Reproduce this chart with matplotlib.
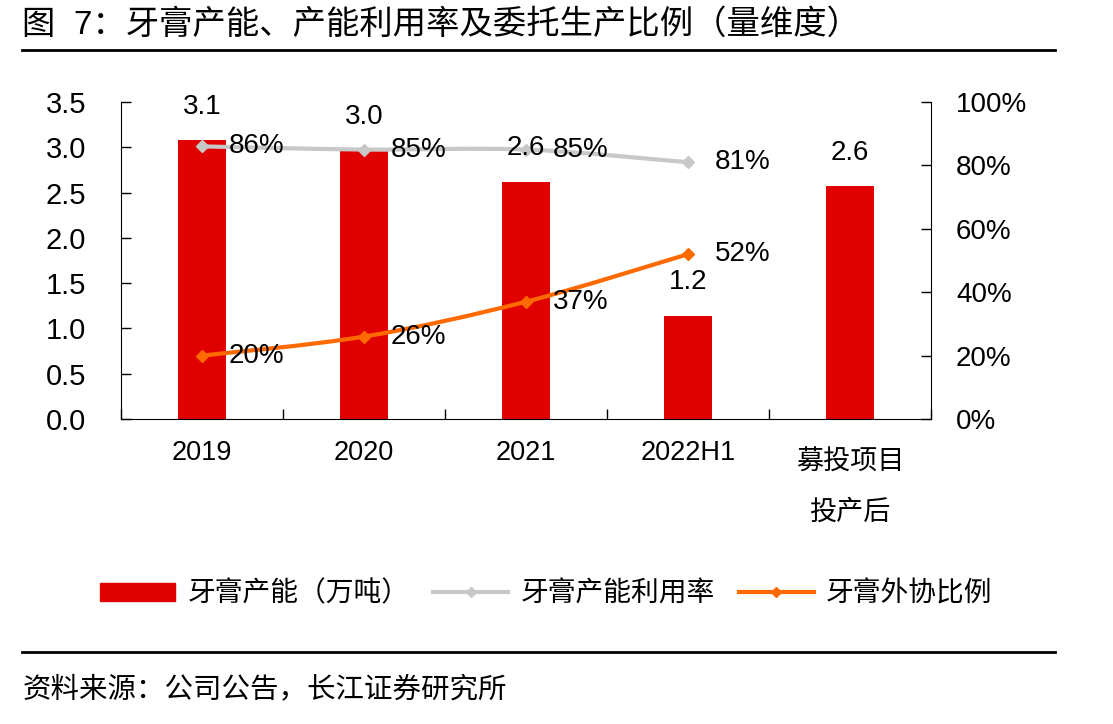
import matplotlib
matplotlib.use("Agg")
import matplotlib.pyplot as plt
import matplotlib.transforms as mtransforms
import numpy as np
from matplotlib.lines import Line2D
from matplotlib.patches import Patch, PathPatch
from matplotlib.path import Path

plt.rcParams["font.family"] = ["Liberation Sans", "Noto Sans CJK SC"]

categories = ["2019", "2020", "2021", "2022H1", "募投项目\n投产后"]
capacity = [3.08, 2.97, 2.62, 1.14, 2.57]
capacity_labels = ["3.1", "3.0", "2.6", "1.2", "2.6"]
utilization = [0.86, 0.85, 0.85, 0.81]
outsourcing = [0.20, 0.26, 0.37, 0.52]

RED = "#E00000"
GRAY = "#C8C8C8"
ORANGE = "#FF6A00"


def smooth_path(xs, ys):
    """Bezier path through the points (Excel-style smoothed line)."""
    xs = np.asarray(xs, float)
    ys = np.asarray(ys, float)
    n = len(xs)
    verts = [(xs[0], ys[0])]
    codes = [Path.MOVETO]
    for i in range(n - 1):
        p0 = i - 1 if i > 0 else i
        p3 = i + 2 if i + 2 < n else i + 1
        c1 = (xs[i] + (xs[i + 1] - xs[p0]) / 6, ys[i] + (ys[i + 1] - ys[p0]) / 6)
        c2 = (xs[i + 1] - (xs[p3] - xs[i]) / 6, ys[i + 1] - (ys[p3] - ys[i]) / 6)
        verts += [c1, c2, (xs[i + 1], ys[i + 1])]
        codes += [Path.CURVE4] * 3
    return Path(verts, codes)


fig = plt.figure(figsize=(11.13, 7.24), dpi=100)
ax = fig.add_axes([0.1087, 0.4213, 0.7278, 0.4378])
x = np.arange(len(categories))

ax.bar(x, capacity, width=0.3, color=RED, zorder=2)
ax.set_xlim(-0.5, len(categories) - 0.5)
ax.set_ylim(0, 3.5)
ax.set_yticks(np.arange(0, 3.51, 0.5))
ax.set_yticklabels([f"{v:.1f}" for v in np.arange(0, 3.51, 0.5)])
ax.set_xticks(x)
ax.set_xticklabels(categories)
ax.set_xticks(np.arange(-0.5, len(categories) - 0.4, 1), minor=True)
ax.tick_params(axis="x", which="major", length=0, labelsize=19.5, pad=15)
ax.tick_params(axis="x", which="minor", direction="in", length=7, width=1)
ax.tick_params(axis="y", direction="in", length=7, width=1, labelsize=21, pad=25)
for s in ["top", "right"]:
    ax.spines[s].set_visible(False)
# two-line category label sits a little lower with wide line spacing
last = ax.get_xticklabels()[-1]
last.set_linespacing(2.2)
last.set_transform(last.get_transform()
                   + mtransforms.ScaledTranslation(0, -0.1, fig.dpi_scale_trans))

ax2 = ax.twinx()
ax2.set_ylim(0, 1.0)
ax2.set_yticks(np.arange(0, 1.01, 0.2))
ax2.set_yticklabels([f"{int(round(v * 100))}%" for v in np.arange(0, 1.01, 0.2)])
ax2.tick_params(axis="y", direction="in", length=7, width=1, labelsize=20, pad=18)
for s in ["top", "left", "bottom"]:
    ax2.spines[s].set_visible(False)

xl = x[:len(utilization)]
ax2.add_patch(PathPatch(smooth_path(xl, utilization), fill=False, edgecolor=GRAY, lw=3, zorder=3))
ax2.plot(xl, utilization, linestyle="none", marker="D", color=GRAY, markersize=6, zorder=4)
ax2.add_patch(PathPatch(smooth_path(xl, outsourcing), fill=False, edgecolor=ORANGE, lw=3, zorder=3))
ax2.plot(xl, outsourcing, linestyle="none", marker="D", color=ORANGE, markersize=6, zorder=4)

for xi, v in zip(xl, utilization):
    ax2.annotate(f"{v:.0%}", (xi, v), xytext=(19, 0), textcoords="offset points",
                 ha="left", va="center", fontsize=20, zorder=5)
for xi, v in zip(xl, outsourcing):
    ax2.annotate(f"{v:.0%}", (xi, v), xytext=(19, 0), textcoords="offset points",
                 ha="left", va="center", fontsize=20, zorder=5)
for xi, v, t in zip(x, capacity, capacity_labels):
    yv = v / 3.5
    ax2.annotate(t, (xi, yv), xytext=(0, 24), textcoords="offset points",
                 ha="center", va="center", fontsize=20, zorder=5)

handles = [
    Patch(color=RED),
    Line2D([], [], color=GRAY, lw=3, marker="D", markersize=5),
    Line2D([], [], color=ORANGE, lw=3, marker="D", markersize=5),
]
labels = ["牙膏产能（万吨）", "牙膏产能利用率", "牙膏外协比例"]
fig.legend(handles, labels, loc="center", bbox_to_anchor=(0.491, 0.179), ncol=3,
           frameon=False, fontsize=20, handlelength=2.7, handleheight=0.6,
           columnspacing=0.85, handletextpad=0.45)

fig.text(0.02, 0.965, "图  7：牙膏产能、产能利用率及委托生产比例（量维度）",
         fontsize=24, va="center", ha="left")
fig.add_artist(Line2D([0.02, 0.948], [0.931, 0.931], color="black", lw=2))
fig.add_artist(Line2D([0.02, 0.948], [0.099, 0.099], color="black", lw=2))
fig.text(0.02, 0.047, "资料来源：公司公告，长江证券研究所", fontsize=20.5, va="center", ha="left")

fig.savefig("out.png", dpi=100)
